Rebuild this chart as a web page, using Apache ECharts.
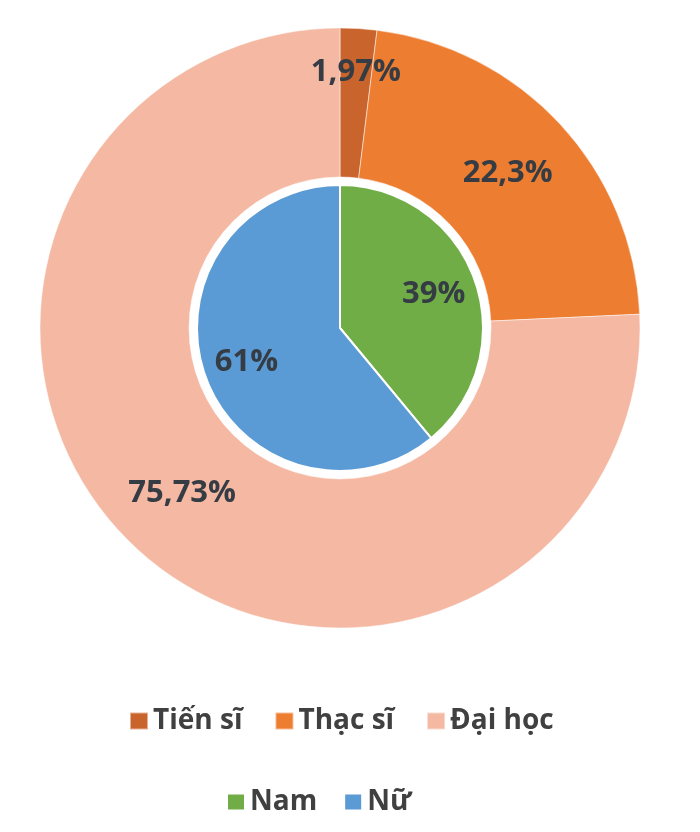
<!DOCTYPE html>
<html>
<head>
<meta charset="utf-8">
<script src="https://cdn.jsdelivr.net/npm/echarts@6/dist/echarts.min.js"></script>
<style>
  html, body { margin: 0; padding: 0; background: #fff; }
  #chart { width: 700px; height: 832px; }
</style>
</head>
<body>
<div id="chart"></div>
<script>
// degree levels (outer ring)
const degreeNames = ['Tiến sĩ', 'Thạc sĩ', 'Đại học'];
const degreeValues = [1.97, 22.3, 75.73];
const degreeLabels = ['1,97%', '22,3%', '75,73%'];
const degreeColors = ['#C8642C', '#ED7D31', '#F4B8A3'];

// gender (inner pie)
const genderNames = ['Nam', 'Nữ'];
const genderValues = [39, 61];
const genderLabels = ['39%', '61%'];
const genderColors = ['#70AD47', '#5B9BD5'];

const CENTER = [340, 328];
const FONT = '"Open Sans", "DejaVu Sans", sans-serif';
const labelStyle = {
  color: '#353c44',
  fontFamily: FONT,
  fontWeight: 'bold',
  fontSize: 31
};
const legendText = { color: '#404040', fontFamily: FONT, fontWeight: 'bold', fontSize: 28 };

function items(names, values, colors) {
  return names.map((n, i) => ({ name: n, value: values[i], itemStyle: { color: colors[i] } }));
}

const chart = echarts.init(document.getElementById('chart'), null, { renderer: 'canvas' });

chart.setOption({
  animation: false,
  backgroundColor: '#fff',
  legend: [
    {
      data: degreeNames,
      top: 702,
      left: 124,
      icon: 'rect',
      itemWidth: 18,
      itemHeight: 17,
      itemGap: 32,
      textStyle: legendText
    },
    {
      data: genderNames,
      top: 783,
      left: 221,
      icon: 'rect',
      itemWidth: 18,
      itemHeight: 17,
      itemGap: 26,
      textStyle: legendText
    }
  ],
  series: [
    {
      name: 'degree',
      type: 'pie',
      center: CENTER,
      radius: [151, 300],
      startAngle: 90,
      clockwise: true,
      itemStyle: { borderColor: 'rgba(255,255,255,0.5)', borderWidth: 1 },
      label: {
        show: true,
        position: 'inside',
        ...labelStyle,
        formatter: p => (p.dataIndex === 0 ? '' : degreeLabels[p.dataIndex])
      },
      labelLine: { show: false },
      emphasis: { disabled: true },
      data: items(degreeNames, degreeValues, degreeColors)
    },
    {
      // label-only ring to place the small slice label further out
      name: 'degreeSmallLabel',
      type: 'pie',
      center: CENTER,
      radius: [206, 300],
      startAngle: 90,
      silent: true,
      itemStyle: { color: 'rgba(0,0,0,0)', borderWidth: 0 },
      label: {
        show: true,
        position: 'inside',
        ...labelStyle,
        formatter: p => (p.dataIndex === 0 ? degreeLabels[0] : '')
      },
      labelLine: { show: false },
      emphasis: { disabled: true },
      legendHoverLink: false,
      data: degreeNames.map((n, i) => ({ name: '_' + n, value: degreeValues[i] }))
    },
    {
      name: 'gender',
      type: 'pie',
      center: CENTER,
      radius: [0, 143],
      startAngle: 90,
      clockwise: true,
      itemStyle: { borderColor: '#fff', borderWidth: 2 },
      label: { show: false },
      labelLine: { show: false },
      emphasis: { disabled: true },
      data: items(genderNames, genderValues, genderColors)
    },
    {
      // label-only ring so inner labels sit about two thirds out
      name: 'genderLabel',
      type: 'pie',
      center: CENTER,
      radius: [50, 143],
      startAngle: 90,
      silent: true,
      itemStyle: { color: 'rgba(0,0,0,0)', borderWidth: 0 },
      label: {
        show: true,
        position: 'inside',
        ...labelStyle,
        formatter: p => genderLabels[p.dataIndex]
      },
      labelLine: { show: false },
      emphasis: { disabled: true },
      data: genderNames.map((n, i) => ({ name: '_' + n, value: genderValues[i] }))
    }
  ]
});
</script>
</body>
</html>
